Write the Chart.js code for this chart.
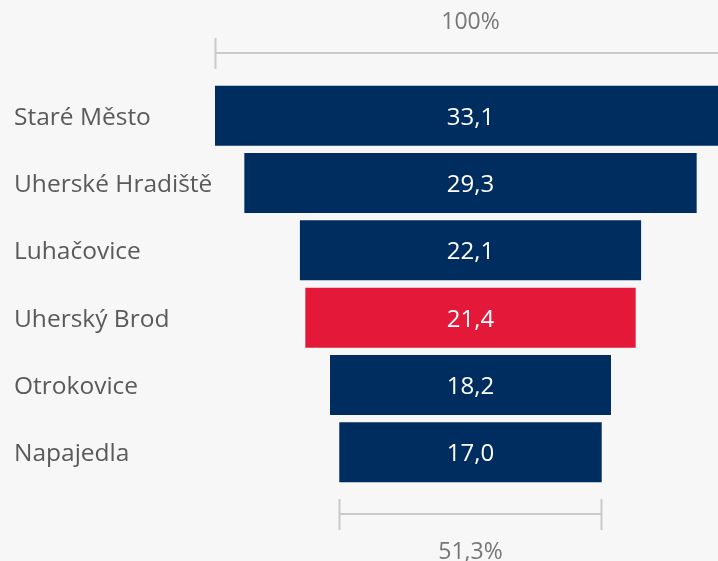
<!DOCTYPE html>
<html>
  <head>
    <title>Funnel</title>
    <meta charset='utf-8'>
    <style>
      html, body {margin: 0px; padding: 0px; background: #F7F7F7; overflow: hidden;}
      .wrap {position: relative; width: 740px; height: 561px;}
    </style>
    <script src='https://cdn.jsdelivr.net/npm/chart.js'></script>
  </head>
  <body>
    <div class='wrap'><canvas id='funnel'></canvas></div>
    <script>
      var categories = ['Staré Město', 'Uherské Hradiště', 'Luhačovice', 'Uherský Brod', 'Otrokovice', 'Napajedla'];
      var values = [33.1, 29.3, 22.1, 21.4, 18.2, 17.0];
      var highlight = 'Uherský Brod';
      var ratioLabels = ['100%', '51,3%'];

      var FONT = "'Open Sans', sans-serif";
      var NAVY = '#002D5F';
      var RED = '#E4193A';

      // every bar is centred on zero, so the rows line up into a funnel
      var spans = values.map(function (v) { return [-v / 2, v / 2]; });
      var half = values[0] / 2;

      function fmt(v) { return v.toFixed(1).replace('.', ','); }

      var funnelDecor = {
        id: 'funnelDecor',
        afterDatasetsDraw: function (chart) {
          var ctx = chart.ctx;
          var meta = chart.getDatasetMeta(0);
          var x = chart.scales.x;
          ctx.save();
          ctx.fillStyle = '#FFFFFF';
          ctx.font = '24px ' + FONT;
          ctx.textAlign = 'center';
          ctx.textBaseline = 'middle';
          meta.data.forEach(function (bar, i) {
            ctx.fillText(fmt(values[i]), x.getPixelForValue(0), bar.y + 2);
          });
          ctx.restore();
        },
        afterDraw: function (chart) {
          var ctx = chart.ctx;
          var x = chart.scales.x;
          var area = chart.chartArea;
          var last = values[values.length - 1];

          function bracket(from, to, y) {
            var x1 = Math.round(x.getPixelForValue(from)) + 0.5;
            var x2 = Math.round(x.getPixelForValue(to)) - 0.5;
            ctx.beginPath();
            ctx.moveTo(x1, y); ctx.lineTo(x2, y);
            ctx.moveTo(x1, y - 15); ctx.lineTo(x1, y + 16);
            ctx.moveTo(x2, y - 15); ctx.lineTo(x2, y + 16);
            ctx.stroke();
          }

          ctx.save();
          ctx.strokeStyle = '#CACACA';
          ctx.lineWidth = 2;
          bracket(-half, half, area.top - 29);
          bracket(-last / 2, last / 2, area.bottom + 28);

          ctx.fillStyle = '#777777';
          ctx.font = '23px ' + FONT;
          ctx.textAlign = 'center';
          ctx.textBaseline = 'middle';
          ctx.fillText(ratioLabels[0], x.getPixelForValue(0), area.top - 60);
          ctx.fillText(ratioLabels[1], x.getPixelForValue(0), area.bottom + 66);
          ctx.restore();
        }
      };

      var ctx = document.getElementById('funnel').getContext('2d');
      var funnel = new Chart(ctx, {
        type: 'bar',
        data: {
          labels: categories,
          datasets: [{
            data: spans,
            backgroundColor: categories.map(function (c) { return c === highlight ? RED : NAVY; }),
            borderWidth: 0,
            borderSkipped: false,
            barPercentage: 0.89,
            categoryPercentage: 1.0
          }]
        },
        options: {
          indexAxis: 'y',
          responsive: true,
          maintainAspectRatio: false,
          animation: false,
          layout: {padding: {left: 14, right: 14, top: 82, bottom: 75}},
          plugins: {legend: {display: false}, tooltip: {enabled: false}},
          scales: {
            x: {min: -half, max: half, display: false},
            y: {
              grid: {display: false},
              border: {display: false},
              ticks: {
                crossAlign: 'far',
                labelOffset: 2,
                color: '#5A5A5A',
                font: {family: FONT, size: 24.5}
              },
              afterFit: function (scale) { scale.width = 201; }
            }
          }
        },
        plugins: [funnelDecor]
      });
    </script>
  </body>
</html>
